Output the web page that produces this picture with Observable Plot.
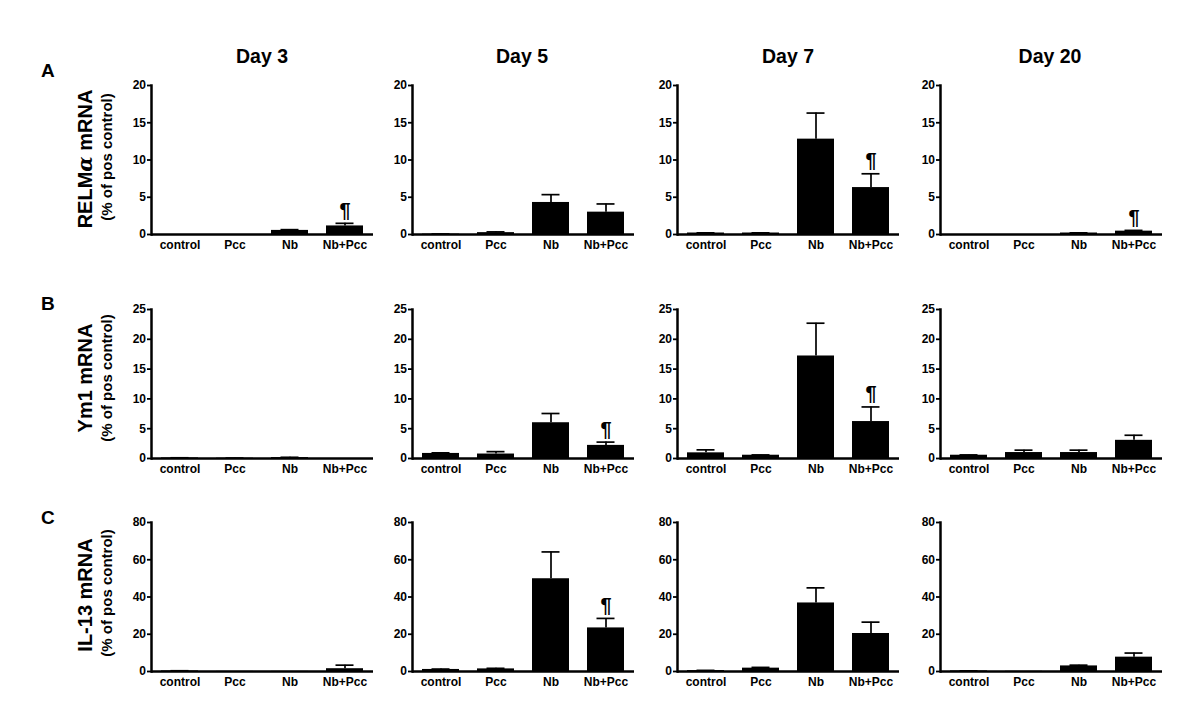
<!DOCTYPE html>
<html><head><meta charset="utf-8">
<script src="https://cdn.jsdelivr.net/npm/d3@7"></script>
<script src="https://cdn.jsdelivr.net/npm/@observablehq/plot@0.6"></script>
<style>
body{margin:0;background:#fff;font-family:Arial,"Liberation Sans",sans-serif;}
#fig{position:relative;width:1200px;height:709px;overflow:hidden;background:#fff;}
.t{position:absolute;font-weight:bold;color:#000;white-space:nowrap;line-height:1;}
.rot{transform:translate(-50%,-50%) rotate(-90deg);transform-origin:center center;}
.plotwrap{position:absolute;}
</style></head><body><div id="fig"></div>
<script>
// ---- data ----
const categories = ["control", "Pcc", "Nb", "Nb+Pcc"];
const days = ["Day 3", "Day 5", "Day 7", "Day 20"];
const genes = ["RELMα mRNA", "Ym1 mRNA", "IL-13 mRNA"];
const yUnit = "(% of pos control)";
const panelLetters = ["A", "B", "C"];
const yMax = [20, 25, 80];
const yTicks = [[0, 5, 10, 15, 20], [0, 5, 10, 15, 20, 25], [0, 20, 40, 60, 80]];

// means / SEM per day (rows) per category (columns)
const relmMean = [[0, 0, 0.55, 1.15], [0.05, 0.25, 4.3, 3.0], [0.2, 0.2, 12.8, 6.3], [0, 0, 0.2, 0.45]];
const relmErr  = [[0, 0, 0.1, 0.35], [0.02, 0.1, 1.05, 1.1], [0.02, 0.02, 3.5, 1.85], [0, 0, 0.02, 0.1]];
const relmSig  = [[0, 0, 0, 1], [0, 0, 0, 0], [0, 0, 0, 1], [0, 0, 0, 1]];

const ym1Mean = [[0.1, 0.05, 0.15, 0], [0.85, 0.75, 6.0, 2.2], [0.95, 0.55, 17.2, 6.2], [0.55, 1.0, 1.0, 3.05]];
const ym1Err  = [[0.02, 0.02, 0.05, 0], [0.1, 0.4, 1.55, 0.55], [0.5, 0.05, 5.5, 2.45], [0.05, 0.4, 0.4, 0.85]];
const ym1Sig  = [[0, 0, 0, 0], [0, 0, 0, 1], [0, 0, 0, 1], [0, 0, 0, 0]];

const il13Mean = [[0.3, 0.05, 0.05, 1.5], [1.1, 1.4, 49.8, 23.4], [0.5, 1.8, 36.8, 20.4], [0.3, 0.1, 3.0, 7.7]];
const il13Err  = [[0.1, 0, 0, 1.9], [0.2, 0.3, 14.4, 5.1], [0.1, 0.4, 8.1, 6.1], [0.05, 0, 0.4, 2.2]];
const il13Sig  = [[0, 0, 0, 0], [0, 0, 0, 1], [0, 0, 0, 0], [0, 0, 0, 0]];

const means = [relmMean, ym1Mean, il13Mean];
const errs = [relmErr, ym1Err, il13Err];
const sigs = [relmSig, ym1Sig, il13Sig];

// ---- layout ----
const colX = [151, 412, 677, 940];
const rowTop = [84.5, 309.3, 522.3];
const plotW = 222, plotH = 149;
const ML = 32, MR = 10, MT = 34, MB = 24;
const FONT = "Arial, 'Liberation Sans', sans-serif";

const fig = document.getElementById("fig");

function addText(html, css, cls = "t") {
  const el = document.createElement("div");
  el.className = cls;
  el.innerHTML = html;
  Object.assign(el.style, css);
  fig.appendChild(el);
  return el;
}

function panel(g, d) {
  const rows = categories.map((c, i) => ({cat: c, mean: means[g][d][i], err: errs[g][d][i], sig: sigs[g][d][i]}));
  const chart = Plot.plot({
    width: ML + plotW + MR,
    height: MT + plotH + MB,
    marginLeft: ML, marginRight: MR, marginTop: MT, marginBottom: MB,
    style: {background: "transparent", overflow: "visible", fontFamily: FONT, fontWeight: "bold", color: "#000"},
    x: {domain: categories, paddingInner: 0.32, paddingOuter: 0.16},
    y: {domain: [0, yMax[g]]},
    marks: [
      Plot.barY(rows, {x: "cat", y: "mean", fill: "#000"}),
      Plot.ruleX(rows.filter(r => r.err > 0), {x: "cat", y1: "mean", y2: r => r.mean + r.err, stroke: "#000", strokeWidth: 1.7}),
      Plot.tickY(rows.filter(r => r.err > 0), {x: "cat", y: r => r.mean + r.err, stroke: "#000", strokeWidth: 1.7, insetLeft: 9.5, insetRight: 9.5}),
      Plot.text(rows.filter(r => r.sig), {x: "cat", y: r => r.mean + r.err, text: () => "¶", dy: -13, fontSize: 20, fontWeight: "bold", fill: "#000"}),
      Plot.axisY({ticks: yTicks[g], tickSize: 4, tickPadding: 1.5, fontSize: 12, fontWeight: "bold", tickFormat: v => String(v), strokeWidth: 1.8, label: null}),
      Plot.axisX({tickSize: 0, tickPadding: 6, fontSize: 12, fontWeight: "bold", label: null}),
      Plot.ruleY([0], {stroke: "#000", strokeWidth: 2.5}),
      Plot.frame({anchor: "left", stroke: "#000", strokeWidth: 2.5})
    ]
  });
  const wrap = document.createElement("div");
  wrap.className = "plotwrap";
  wrap.style.left = (colX[d] - ML) + "px";
  wrap.style.top = (rowTop[g] - MT) + "px";
  wrap.appendChild(chart);
  fig.appendChild(wrap);
}

for (let g = 0; g < genes.length; g++) for (let d = 0; d < days.length; d++) panel(g, d);

// column titles
const titleX = [262, 522, 788, 1050];
days.forEach((t, i) => addText(t, {left: titleX[i] + "px", top: "47px", fontSize: "19.5px", transform: "translateX(-50%)"}));

// panel letters
const letterTop = [61, 293.5, 507.5];
panelLetters.forEach((t, i) => addText(t, {left: "41px", top: letterTop[i] + "px", fontSize: "19px"}));

// y titles
const yTitleCY = [159, 378, 595];
const yUnitCY = [157, 378, 593];
genes.forEach((t, i) => {
  const html = t.replace("α", "<i style=\"font-family:'DejaVu Serif',serif;font-weight:bold\">α</i>");
  addText(html, {left: "84.5px", top: yTitleCY[i] + "px", fontSize: "20px"}, "t rot");
  addText(yUnit, {left: "106px", top: yUnitCY[i] + "px", fontSize: "15px"}, "t rot");
});
</script>
</body></html>
